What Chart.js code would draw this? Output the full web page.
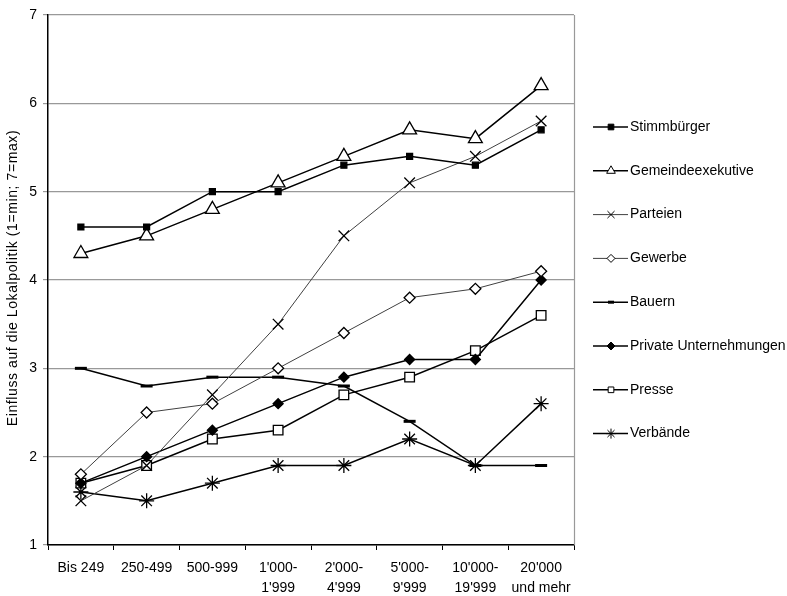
<!DOCTYPE html>
<html lang="de">
<head>
<meta charset="UTF-8">
<title>Einfluss auf die Lokalpolitik</title>
<script src="https://cdn.jsdelivr.net/npm/chart.js"></script>
<style>
    body { margin: 0; padding: 0; background: #fff; }
    #wrap { width: 787px; height: 596px; position: relative; }
</style>
</head>
<body>
<div id="wrap"><canvas id="chart"></canvas></div>
<script>
const categories = [['Bis 249'], ['250-499'], ['500-999'], ["1'000-", "1'999"], ["2'000-", "4'999"],
    ["5'000-", "9'999"], ["10'000-", "19'999"], ["20'000", 'und mehr']];

const stimmbuerger = [4.6, 4.6, 5.0, 5.0, 5.3, 5.4, 5.3, 5.7];
const gemeindeexekutive = [4.3, 4.5, 4.8, 5.1, 5.4, 5.7, 5.6, 6.2];
const parteien = [1.5, 1.9, 2.7, 3.5, 4.5, 5.1, 5.4, 5.8];
const gewerbe = [1.8, 2.5, 2.6, 3.0, 3.4, 3.8, 3.9, 4.1];
const bauern = [3.0, 2.8, 2.9, 2.9, 2.8, 2.4, 1.9, 1.9];
const privateUnternehmungen = [1.7, 2.0, 2.3, 2.6, 2.9, 3.1, 3.1, 4.0];
const presse = [1.7, 1.9, 2.2, 2.3, 2.7, 2.9, 3.2, 3.6];
const verbaende = [1.6, 1.5, 1.7, 1.9, 1.9, 2.2, 1.9, 2.6];

const yTitle = 'Einfluss auf die Lokalpolitik (1=min; 7=max)';
const FONT = "'Liberation Sans', Arial, sans-serif";

function series(label, data, style, radius, fill, color, width, legendRadius) {
    return {
        label: label,
        data: data,
        borderColor: color,
        borderWidth: width,
        pointStyle: style,
        pointRadius: radius,
        pointHoverRadius: radius,
        pointBackgroundColor: fill,
        pointBorderColor: '#000',
        pointBorderWidth: style === 'line' ? 3 : 1.3,
        legendRadius: legendRadius,
        tension: 0,
        fill: false
    };
}

const datasets = [
    series('Stimmbürger', stimmbuerger, 'rect', 4.2, '#000', '#000', 1.5, 4),
    series('Gemeindeexekutive', gemeindeexekutive, 'triangle', 8, '#fff', '#000', 1.5, 5),
    series('Parteien', parteien, 'crossRot', 7.5, '#fff', '#404040', 1, 5),
    series('Gewerbe', gewerbe, 'rectRot', 5.5, '#fff', '#404040', 1, 4),
    series('Bauern', bauern, 'line', 6, '#000', '#000', 1.5, 3),
    series('Private Unternehmungen', privateUnternehmungen, 'rectRot', 5, '#000', '#000', 1.5, 4),
    series('Presse', presse, 'rect', 6.8, '#fff', '#000', 1.5, 4),
    series('Verbände', verbaende, 'star', 7.5, '#000', '#000', 1.5, 5)
];

const sideLegend = {
    id: 'sideLegend',
    afterDraw(chart) {
        const ctx = chart.ctx;
        const a = chart.chartArea;
        ctx.save();
        chart.data.datasets.forEach((ds, i) => {
            const y = 127 + i * 43.8;
            ctx.strokeStyle = ds.borderColor;
            ctx.lineWidth = ds.borderWidth;
            ctx.beginPath();
            ctx.moveTo(593, y);
            ctx.lineTo(628, y);
            ctx.stroke();
            ctx.fillStyle = ds.pointBackgroundColor;
            ctx.strokeStyle = '#000';
            ctx.lineWidth = ds.pointStyle === 'line' ? 3 : 1;
            Chart.helpers.drawPoint(ctx, {
                pointStyle: ds.pointStyle,
                radius: ds.legendRadius,
                rotation: 0,
                borderWidth: ctx.lineWidth
            }, 611, y);
            ctx.fillStyle = '#000';
            ctx.font = '14px ' + FONT;
            ctx.textBaseline = 'middle';
            ctx.textAlign = 'left';
            ctx.fillText(ds.label, 630, y);
        });
        // right frame of plot area
        ctx.strokeStyle = '#999';
        ctx.lineWidth = 1.2;
        ctx.beginPath();
        ctx.moveTo(a.right + 0.5, a.top);
        ctx.lineTo(a.right + 0.5, a.bottom);
        ctx.stroke();
        // y axis title
        ctx.translate(13, (a.top + a.bottom) / 2 - 2);
        ctx.rotate(-Math.PI / 2);
        ctx.fillStyle = '#000';
        ctx.font = '14px ' + FONT;
        ctx.letterSpacing = '0.6px';
        ctx.textAlign = 'center';
        ctx.textBaseline = 'middle';
        ctx.fillText(yTitle, 0, 0);
        ctx.restore();
    }
};

new Chart(document.getElementById('chart'), {
    type: 'line',
    data: { labels: categories, datasets: datasets },
    plugins: [sideLegend],
    options: {
        responsive: true,
        maintainAspectRatio: false,
        animation: false,
        layout: { padding: { top: 15, right: 213, left: 0, bottom: 0 } },
        plugins: { legend: { display: false }, tooltip: { enabled: false } },
        scales: {
            x: {
                offset: true,
                grid: { offset: true, drawOnChartArea: false, color: '#000', tickLength: 5 },
                border: { color: '#000', width: 1.5 },
                ticks: { color: '#000', font: { family: FONT, size: 14, lineHeight: 1.43 }, padding: 8, maxRotation: 0, autoSkip: false },
                afterFit(scale) { scale.height = 51; }
            },
            y: {
                min: 1,
                max: 7,
                ticks: { stepSize: 1, color: '#000', font: { family: FONT, size: 14 }, padding: 6 },
                grid: { color: '#999', tickLength: 5, lineWidth: 1.2 },
                border: { color: '#000', width: 1.5 },
                afterFit(scale) { scale.width = 48; }
            }
        }
    }
});
</script>
</body>
</html>
